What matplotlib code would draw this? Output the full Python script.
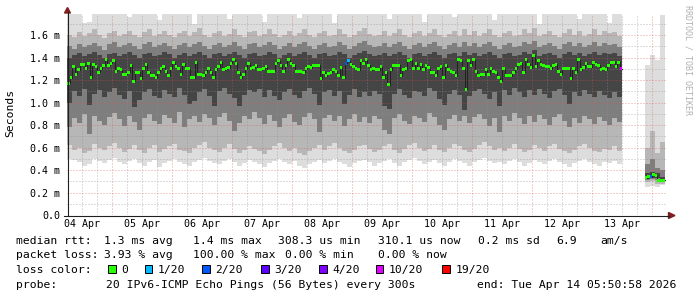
import numpy as np
import matplotlib
matplotlib.use('Agg')
import matplotlib.pyplot as plt
from matplotlib.patches import Polygon, Rectangle
from matplotlib.lines import Line2D

W, H = 697, 297

# ---------------------------------------------------------------------------
# data (ms); x axis = hours after 04 Apr 06:00
# ---------------------------------------------------------------------------
# hourly median rtt, 04 Apr 06:00 .. 13 Apr 12:00
median_main = [
    1.17, 1.22, 1.32, 1.25, 1.29, 1.34, 1.34, 1.30, 1.35, 1.22,
    1.34, 1.32, 1.27, 1.30, 1.33, 1.38, 1.33, 1.35, 1.37, 1.28,
    1.30, 1.29, 1.25, 1.25, 1.27, 1.33, 1.19, 1.27, 1.27, 1.21,
    1.30, 1.34, 1.27, 1.24, 1.24, 1.22, 1.27, 1.30, 1.32, 1.28,
    1.24, 1.30, 1.36, 1.32, 1.30, 1.25, 1.34, 1.30, 1.30, 1.22,
    1.22, 1.36, 1.25, 1.25, 1.24, 1.27, 1.30, 1.27, 1.22, 1.29,
    1.32, 1.36, 1.29, 1.30, 1.31, 1.35, 1.38, 1.35, 1.27,
    1.22, 1.25, 1.30, 1.35, 1.30, 1.31, 1.33, 1.29, 1.29, 1.30,
    1.32, 1.28, 1.28, 1.28, 1.35, 1.37, 1.33, 1.28, 1.33, 1.38,
    1.35, 1.33, 1.28, 1.28, 1.28, 1.27, 1.30, 1.32, 1.31, 1.33,
    1.33, 1.33, 1.21, 1.27, 1.24, 1.26, 1.27, 1.29, 1.28, 1.24,
    1.31, 1.22, 1.35, 1.37, 1.34, 1.32, 1.30, 1.29, 1.37, 1.35,
    1.38, 1.33, 1.29, 1.30, 1.29, 1.29, 1.32, 1.22, 1.27, 1.16,
    1.29, 1.33, 1.33, 1.33, 1.24, 1.29, 1.30, 1.37, 1.38, 1.30,
    1.35, 1.30, 1.34, 1.29, 1.33, 1.31, 1.27, 1.27, 1.24, 1.30,
    1.32, 1.22, 1.33, 1.29, 1.28, 1.27, 1.24, 1.38, 1.37, 1.30,
    1.12, 1.37,
    1.33, 1.38, 1.28, 1.24, 1.25, 1.25, 1.29, 1.25, 1.30, 1.28,
    1.27, 1.22, 1.19, 1.30, 1.24, 1.24, 1.24, 1.27, 1.30, 1.34,
    1.35, 1.27, 1.38, 1.34, 1.31, 1.42, 1.32, 1.37, 1.34, 1.33,
    1.32, 1.32, 1.30, 1.33, 1.34, 1.28, 1.25, 1.30, 1.30, 1.30,
    1.21, 1.30, 1.27, 1.38, 1.29, 1.31, 1.35, 1.32, 1.32, 1.36,
    1.34, 1.33, 1.29, 1.30, 1.29, 1.33, 1.36, 1.36, 1.32, 1.36,
    1.30,
]
tail_start = 231
median_tail = [0.33, 0.34, 0.34, 0.36, 0.35, 0.31, 0.31, 0.31]

# packets lost (of 20) where not zero
loss_hours = [111, 112, 221, 233]
loss_pings = [2, 1, 10, 2]

# smoke: sorted pings (rank 1, 3, 6, 9, 12, 15, 18, 20), 2-hourly
smoke_step = 2
p01_main = [
    0.50, 0.49, 0.47, 0.44, 0.45, 0.50, 0.48, 0.46, 0.49, 0.51,
    0.47, 0.45, 0.48, 0.50, 0.46, 0.44, 0.47, 0.49, 0.43, 0.46,
    0.48, 0.50, 0.47, 0.45, 0.44, 0.47, 0.49, 0.51, 0.48, 0.46,
    0.45, 0.48, 0.50, 0.47, 0.44, 0.46, 0.49, 0.47, 0.45, 0.43,
    0.46, 0.48, 0.50, 0.47, 0.45, 0.48, 0.44, 0.42, 0.45, 0.47,
    0.49, 0.46, 0.48, 0.50, 0.47, 0.45, 0.43, 0.46, 0.48, 0.49,
    0.47, 0.44, 0.46, 0.48, 0.50, 0.46, 0.44, 0.47, 0.49, 0.51,
    0.48, 0.45, 0.47, 0.49, 0.46, 0.44, 0.47, 0.50, 0.48, 0.46,
    0.44, 0.47, 0.49, 0.51, 0.48, 0.46, 0.47, 0.45, 0.48, 0.50,
    0.47, 0.44, 0.46, 0.49, 0.47, 0.45, 0.48, 0.50, 0.47, 0.45,
    0.43, 0.46, 0.48, 0.50, 0.47, 0.45, 0.44, 0.47, 0.46, 0.48,
    0.45,
]
p03_main = [
    0.62, 0.58, 0.60, 0.55, 0.57, 0.63, 0.60, 0.58, 0.61, 0.64,
    0.60, 0.56, 0.59, 0.62, 0.58, 0.55, 0.60, 0.62, 0.56, 0.59,
    0.61, 0.63, 0.58, 0.57, 0.55, 0.60, 0.62, 0.65, 0.60, 0.58,
    0.56, 0.60, 0.63, 0.59, 0.55, 0.58, 0.61, 0.59, 0.57, 0.54,
    0.58, 0.61, 0.64, 0.60, 0.57, 0.60, 0.55, 0.53, 0.57, 0.60,
    0.62, 0.58, 0.61, 0.64, 0.60, 0.57, 0.55, 0.58, 0.61, 0.62,
    0.59, 0.56, 0.58, 0.61, 0.63, 0.58, 0.55, 0.59, 0.62, 0.64,
    0.60, 0.57, 0.59, 0.62, 0.58, 0.56, 0.60, 0.63, 0.61, 0.58,
    0.56, 0.59, 0.62, 0.65, 0.61, 0.58, 0.60, 0.57, 0.60, 0.63,
    0.59, 0.56, 0.58, 0.62, 0.60, 0.57, 0.61, 0.63, 0.59, 0.57,
    0.55, 0.58, 0.61, 0.63, 0.60, 0.57, 0.56, 0.59, 0.58, 0.61,
    0.57,
]
p06_main = [
    0.78, 0.86, 0.82, 0.90, 0.72, 0.88, 0.84, 0.80, 0.87, 0.91,
    0.85, 0.79, 0.88, 0.83, 0.76, 0.86, 0.90, 0.84, 0.81, 0.89,
    0.86, 0.82, 0.92, 0.78, 0.85, 0.88, 0.83, 0.90, 0.86, 0.80,
    0.87, 0.91, 0.84, 0.75, 0.82, 0.88, 0.85, 0.92, 0.86, 0.81,
    0.89, 0.84, 0.78, 0.86, 0.90, 0.83, 0.80, 0.87, 0.91, 0.85,
    0.74, 0.86, 0.89, 0.84, 0.88, 0.79, 0.85, 0.90, 0.83, 0.87,
    0.82, 0.88, 0.85, 0.76, 0.72, 0.86, 0.90, 0.84, 0.81, 0.88,
    0.86, 0.83, 0.91, 0.87, 0.80, 0.76, 0.85, 0.89, 0.84, 0.88,
    0.82, 0.87, 0.90, 0.85, 0.79, 0.86, 0.74, 0.88, 0.84, 0.91,
    0.86, 0.81, 0.88, 0.83, 0.89, 0.85, 0.80, 0.87, 0.90, 0.84,
    0.78, 0.86, 0.82, 0.88, 0.85, 0.81, 0.87, 0.84, 0.80, 0.86,
    0.83,
]
p09_main = [
    1.00, 1.10, 1.06, 1.12, 0.98, 1.08, 1.11, 1.05, 1.09, 1.13,
    1.07, 1.03, 1.10, 0.96, 1.02, 1.09, 1.12, 1.06, 1.04, 1.11,
    1.08, 1.05, 1.13, 1.07, 0.99, 1.01, 1.09, 1.12, 1.06, 0.97,
    1.10, 1.13, 1.08, 1.04, 0.97, 1.07, 1.11, 1.09, 1.12, 1.05,
    1.11, 1.06, 1.02, 1.09, 1.12, 1.07, 1.04, 1.10, 1.13, 1.08,
    0.98, 1.09, 1.11, 1.06, 1.10, 0.99, 1.07, 1.12, 1.05, 1.09,
    1.06, 1.10, 1.08, 0.97, 0.94, 1.08, 1.12, 1.07, 1.04, 1.10,
    1.09, 1.06, 1.13, 1.10, 1.03, 0.98, 1.08, 1.11, 1.07, 0.93,
    1.06, 1.10, 1.12, 1.08, 1.03, 1.09, 0.97, 1.11, 1.07, 1.13,
    1.09, 1.05, 1.11, 1.07, 1.12, 1.08, 1.04, 1.10, 1.12, 1.07,
    0.99, 1.09, 1.06, 1.11, 1.08, 1.05, 1.10, 1.07, 1.04, 1.09,
    1.05,
]
p12_main = [
    1.40, 1.42, 1.44, 1.41, 1.43, 1.45, 1.42, 1.40, 1.43, 1.44,
    1.41, 1.43, 1.45, 1.42, 1.40, 1.43, 1.44, 1.41, 1.42, 1.45,
    1.43, 1.40, 1.42, 1.44, 1.41, 1.43, 1.45, 1.42, 1.40, 1.43,
    1.44, 1.41, 1.43, 1.45, 1.42, 1.40, 1.43, 1.44, 1.41, 1.42,
    1.45, 1.43, 1.40, 1.42, 1.44, 1.41, 1.43, 1.45, 1.42, 1.40,
    1.43, 1.44, 1.41, 1.42, 1.45, 1.43, 1.40, 1.42, 1.44, 1.46,
    1.43, 1.41, 1.42, 1.44, 1.41, 1.43, 1.45, 1.42, 1.40, 1.43,
    1.44, 1.41, 1.43, 1.45, 1.42, 1.40, 1.43, 1.44, 1.41, 1.45,
    1.42, 1.44, 1.41, 1.43, 1.45, 1.42, 1.40, 1.43, 1.44, 1.41,
    1.42, 1.45, 1.43, 1.47, 1.41, 1.43, 1.44, 1.42, 1.40, 1.43,
    1.45, 1.42, 1.44, 1.41, 1.43, 1.45, 1.42, 1.44, 1.43, 1.44,
    1.41,
]
p15_main = [
    1.50, 1.48, 1.52, 1.49, 1.51, 1.53, 1.50, 1.47, 1.52, 1.54,
    1.49, 1.51, 1.53, 1.50, 1.48, 1.52, 1.54, 1.49, 1.51, 1.53,
    1.50, 1.48, 1.51, 1.53, 1.49, 1.52, 1.54, 1.50, 1.48, 1.51,
    1.53, 1.49, 1.51, 1.54, 1.50, 1.48, 1.52, 1.53, 1.49, 1.51,
    1.54, 1.51, 1.48, 1.50, 1.53, 1.49, 1.52, 1.54, 1.50, 1.48,
    1.51, 1.53, 1.49, 1.50, 1.54, 1.51, 1.48, 1.50, 1.53, 1.55,
    1.51, 1.49, 1.50, 1.53, 1.49, 1.52, 1.54, 1.50, 1.48, 1.51,
    1.53, 1.49, 1.52, 1.54, 1.50, 1.48, 1.51, 1.53, 1.49, 1.54,
    1.50, 1.53, 1.49, 1.52, 1.54, 1.50, 1.48, 1.51, 1.53, 1.49,
    1.50, 1.54, 1.52, 1.55, 1.49, 1.51, 1.53, 1.50, 1.48, 1.52,
    1.54, 1.50, 1.53, 1.49, 1.51, 1.54, 1.50, 1.53, 1.51, 1.52,
    1.49,
]
p18_main = [
    1.60, 1.58, 1.63, 1.59, 1.62, 1.65, 1.60, 1.57, 1.62, 1.64,
    1.59, 1.61, 1.64, 1.60, 1.58, 1.63, 1.65, 1.59, 1.61, 1.64,
    1.60, 1.58, 1.62, 1.64, 1.59, 1.63, 1.66, 1.60, 1.58, 1.62,
    1.64, 1.59, 1.61, 1.65, 1.60, 1.58, 1.63, 1.64, 1.59, 1.61,
    1.65, 1.61, 1.58, 1.60, 1.64, 1.59, 1.62, 1.65, 1.60, 1.58,
    1.62, 1.64, 1.59, 1.60, 1.65, 1.61, 1.58, 1.60, 1.64, 1.66,
    1.61, 1.59, 1.60, 1.64, 1.59, 1.62, 1.65, 1.60, 1.58, 1.62,
    1.64, 1.59, 1.62, 1.65, 1.60, 1.58, 1.61, 1.64, 1.59, 1.65,
    1.60, 1.64, 1.59, 1.62, 1.65, 1.60, 1.58, 1.62, 1.64, 1.59,
    1.60, 1.65, 1.62, 1.66, 1.59, 1.61, 1.64, 1.60, 1.58, 1.62,
    1.65, 1.60, 1.64, 1.59, 1.61, 1.65, 1.60, 1.64, 1.62, 1.63,
    1.59,
]
p20_main = [
    1.79, 1.79, 1.79, 1.71, 1.72, 1.79, 1.79, 1.79, 1.79, 1.79,
    1.79, 1.79, 1.76, 1.79, 1.79, 1.79, 1.79, 1.79, 1.73, 1.79,
    1.79, 1.79, 1.79, 1.79, 1.79, 1.70, 1.79, 1.79, 1.79, 1.79,
    1.79, 1.79, 1.74, 1.79, 1.79, 1.79, 1.79, 1.79, 1.79, 1.72,
    1.79, 1.79, 1.79, 1.79, 1.79, 1.79, 1.75, 1.79, 1.79, 1.79,
    1.79, 1.79, 1.79, 1.71, 1.79, 1.79, 1.79, 1.79, 1.79, 1.79,
    1.79, 1.79, 1.79, 1.79, 1.74, 1.79, 1.79, 1.79, 1.79, 1.79,
    1.79, 1.72, 1.79, 1.79, 1.79, 1.79, 1.79, 1.76, 1.79, 1.79,
    1.79, 1.79, 1.79, 1.79, 1.79, 1.73, 1.79, 1.79, 1.79, 1.79,
    1.79, 1.79, 1.79, 1.79, 1.70, 1.79, 1.79, 1.79, 1.79, 1.79,
    1.79, 1.79, 1.74, 1.79, 1.79, 1.79, 1.79, 1.79, 1.71, 1.79,
    1.79,
]
p01_tail = [0.25, 0.26, 0.25, 0.27]
p03_tail = [0.29, 0.30, 0.28, 0.28]
p06_tail = [0.31, 0.32, 0.31, 0.29]
p09_tail = [0.32, 0.33, 0.33, 0.30]
p12_tail = [0.37, 0.38, 0.37, 0.34]
p15_tail = [0.45, 0.50, 0.42, 0.40]
p18_tail = [0.60, 0.75, 0.55, 0.65]
p20_tail = [1.33, 1.42, 1.38, 1.78]

y_top = 1.787
ytick_vals = [0.0, 0.2, 0.4, 0.6, 0.8, 1.0, 1.2, 1.4, 1.6]
ytick_labels = ["0.0", "0.2 m", "0.4 m", "0.6 m", "0.8 m", "1.0 m",
                "1.2 m", "1.4 m", "1.6 m"]
day_labels = ["04 Apr", "05 Apr", "06 Apr", "07 Apr", "08 Apr",
              "09 Apr", "10 Apr", "11 Apr", "12 Apr", "13 Apr"]

loss_levels = [0, 1, 2, 3, 4, 10, 19]
loss_labels = ["0", "1/20", "2/20", "3/20", "4/20", "10/20", "19/20"]
loss_colors = ["#26ff00", "#00b8ff", "#0059ff", "#5e00ff", "#7e00ff",
               "#dd00ff", "#ff0000"]

shade_colors = ["#dddddd", "#b7b7b7", "#7e7e7e", "#454545"]

# ---------------------------------------------------------------------------
plt.rcParams['font.family'] = 'DejaVu Sans Mono'
LEG_FS = 8.2


def fx(px):
    return px / W


def fy(py):
    return 1 - py / H


def loss_color(hour):
    lost = dict(zip(loss_hours, loss_pings)).get(hour, 0)
    for lvl, col in zip(loss_levels, loss_colors):
        if lost <= lvl:
            return col
    return loss_colors[-1]


def draw_smoke(ax, start, lows, highs):
    for lo, hi, shade in zip(lows, highs, shade_colors):
        lo = np.asarray(lo)
        hi = np.asarray(hi)
        x = start + smoke_step * np.arange(len(lo) + 1)
        ax.fill_between(x, np.append(lo, lo[-1]), np.append(hi, hi[-1]),
                        step='post', color=shade, linewidth=0, zorder=1)


def draw_median(ax, start, med, half):
    med = np.asarray(med)
    x = start + np.arange(len(med) + 1)
    ax.step(x, np.append(med, med[-1]), where='post', color='#202020',
            lw=0.7, zorder=3)
    hours = start + np.arange(len(med))
    ax.bar(hours, 2 * half, bottom=med - half, width=1, align='edge',
           color=[loss_color(h) for h in hours], linewidth=0, zorder=4)


fig = plt.figure(figsize=(W / 100, H / 100), dpi=100)
fig.patch.set_facecolor('white')

ax = fig.add_axes([fx(67), fy(215), (667 - 67) / W, (215 - 14) / H])
ax.set_xlim(0, 240)
ax.set_ylim(0, y_top)
ax.set_facecolor('white')
for sp in ax.spines.values():
    sp.set_visible(False)

draw_smoke(ax, 0,
           [p01_main, p03_main, p06_main, p09_main],
           [p20_main, p18_main, p15_main, p12_main])
draw_smoke(ax, tail_start,
           [p01_tail, p03_tail, p06_tail, p09_tail],
           [p20_tail, p18_tail, p15_tail, p12_tail])

# dotted grid on top of the smoke, like rrdtool
grid_col = (0.56, 0.56, 0.56, 0.6)
mgrid_col = (0.87, 0.31, 0.31, 0.55)
dots = (0, (1, 2))
for i in range(1, 18):
    ax.axhline(i * 0.1, color=mgrid_col if i % 2 == 0 else grid_col,
               lw=0.72, linestyle=dots, zorder=2)
for h in range(6, 240, 6):
    ax.axvline(h, color=mgrid_col if (h - 18) % 24 == 0 else grid_col,
               lw=0.72, linestyle=dots, zorder=2)

px_per_ms = (215 - 14) / y_top
draw_median(ax, 0, median_main, 1.5 / px_per_ms)
draw_median(ax, tail_start, median_tail, 1.5 / px_per_ms)

ax.set_yticks(ytick_vals)
ax.set_yticklabels(ytick_labels, fontsize=7.2)
ax.set_xticks(6 + 24 * np.arange(len(day_labels)))
ax.set_xticklabels(day_labels, fontsize=7.2)
ax.tick_params(axis='y', length=0, pad=5)
ax.tick_params(axis='x', length=0, pad=3)

# axes with arrows
fig.add_artist(Line2D([fx(67.5), fx(67.5)], [fy(215), fy(12)],
                      color='#1f1f1f', lw=0.8, transform=fig.transFigure))
fig.add_artist(Line2D([fx(64), fx(669)], [fy(215.5), fy(215.5)],
                      color='#1f1f1f', lw=0.8, transform=fig.transFigure))
fig.add_artist(Polygon([(fx(67.5), fy(7.5)), (fx(64.5), fy(13)),
                        (fx(70.5), fy(13))], closed=True,
                       color='#801f1f', transform=fig.transFigure))
fig.add_artist(Polygon([(fx(675), fy(215.5)), (fx(668.5), fy(212.5)),
                        (fx(668.5), fy(218.5))], closed=True,
                       color='#801f1f', transform=fig.transFigure))

fig.text(fx(10), fy(113), "Seconds", rotation=90, ha='center', va='center',
         fontsize=8.2)
fig.text(fx(688), fy(5), "RRDTOOL / TOBI OETIKER", rotation=-90,
         ha='center', va='top', fontsize=6, color='#b0b0b0')

# legend
legend_rows = [
    (244, [(16, "median rtt:"), (103.5, "1.3 ms avg"), (193.5, "1.4 ms max"),
           (278, "308.3 us min"), (378, "310.1 us now"),
           (477.5, "0.2 ms sd"), (556, "6.9"), (600, "am/s")]),
    (258.5, [(16, "packet loss:"), (103.5, "3.93 % avg"),
             (193.5, "100.00 % max"), (285, "0.00 % min"),
             (378, "0.00 % now")]),
    (273, [(16, "loss color:")]),
    (287.5, [(16, "probe:"),
             (106, "20 IPv6-ICMP Echo Pings (56 Bytes) every 300s"),
             (477, "end: Tue Apr 14 05:50:58 2026")]),
]
for base, items in legend_rows:
    for x, s in items:
        fig.text(fx(x), fy(base), s, ha='left', va='baseline',
                 fontsize=LEG_FS)

loss_label_x = [121.5, 158, 215.5, 274.5, 332.3, 389, 455.7]
for x, lab, col in zip(loss_label_x, loss_labels, loss_colors):
    fig.add_artist(Rectangle((fx(x - 13.5), fy(273)), 7.7 / W, 7.7 / H,
                             facecolor=col, edgecolor='black', lw=0.7,
                             transform=fig.transFigure))
    fig.text(fx(x), fy(273), lab, ha='left', va='baseline', fontsize=LEG_FS)

fig.savefig('out.png', dpi=100, facecolor='white')
